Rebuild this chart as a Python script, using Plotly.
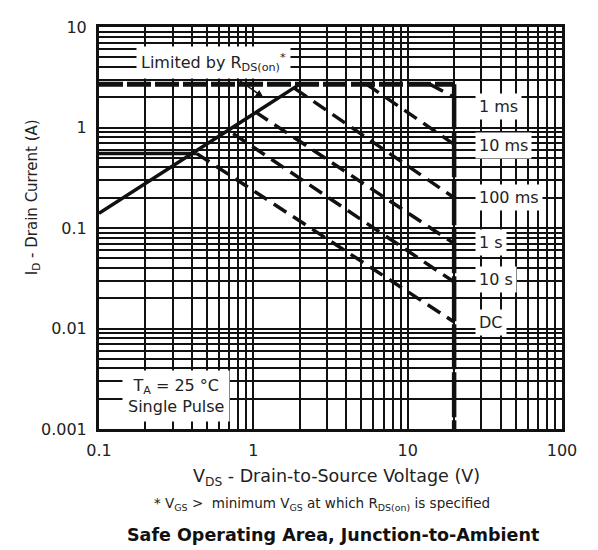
import numpy as np
import plotly.graph_objects as go

# ---- data ----
x_tick_vals = [0.1, 1, 10, 100]
x_tick_text = ["0.1", "1", "10", "100"]
y_tick_vals = [0.001, 0.01, 0.1, 1, 10]
y_tick_text = ["0.001", "0.01", "0.1", "1", "10"]

limit_h_v = [0.1, 20]
limit_h_i = [2.7, 2.7]
limit_v_v = [20, 20]
limit_v_i = [2.7, 0.001]

rds_v = [0.1, 2.0]
rds_i = [0.14, 2.7]

dc_flat_v = [0.1, 0.43]
dc_flat_i = [0.55, 0.55]

pulse_names = ["1 ms", "10 ms", "100 ms", "1 s", "10 s", "DC"]
pulse_start_v = [13.9, 5.4, 1.85, 1.03, 0.74, 0.43]
pulse_start_i = [2.7, 2.7, 2.45, 1.43, 0.87, 0.55]
pulse_end_v = [20, 20, 20, 20, 20, 20]
pulse_end_i = [2.0, 0.68, 0.2, 0.07, 0.029, 0.0116]
pulse_label_v = 27.5
pulse_label_i = [1.6, 0.66, 0.2, 0.071, 0.031, 0.0116]

FONT = "DejaVu Sans"
INK = "#111111"

# page offset of the plot (browser body margin is 8px)
OFF = 8
L, T = 99 - OFF, 18 - OFF
W, H = 463, 411
R = 598 - L - W
B = 550 - T - H

fig = go.Figure()

fig.add_trace(go.Scatter(x=limit_h_v, y=limit_h_i, mode="lines",
                         line=dict(color=INK, width=5, dash="24px,4px"), hoverinfo="skip"))
fig.add_trace(go.Scatter(x=limit_v_v, y=limit_v_i, mode="lines",
                         line=dict(color=INK, width=4.5, dash="45px,3px"), hoverinfo="skip"))
fig.add_trace(go.Scatter(x=rds_v, y=rds_i, mode="lines",
                         line=dict(color=INK, width=3.5), hoverinfo="skip"))
fig.add_trace(go.Scatter(x=dc_flat_v, y=dc_flat_i, mode="lines",
                         line=dict(color=INK, width=3.5), hoverinfo="skip"))
for n, sv, si, ev, ei in zip(pulse_names, pulse_start_v, pulse_start_i, pulse_end_v, pulse_end_i):
    fig.add_trace(go.Scatter(x=[sv, ev], y=[si, ei], mode="lines", name=n,
                             line=dict(color=INK, width=3.5, dash="15px,8px"), hoverinfo="skip"))

# in-plot labels (white boxes hide the grid)
for n, li in zip(pulse_names, pulse_label_i):
    fig.add_annotation(x=np.log10(pulse_label_v), y=np.log10(li), xref="x", yref="y",
                       text=n, showarrow=False, xanchor="left", yanchor="middle",
                       bgcolor="white", borderpad=3,
                       font=dict(family=FONT, size=16, color="#222"))

fig.add_annotation(x=np.log10(1.16), y=np.log10(2.0), xref="x", yref="y",
                   ax=np.log10(0.556), ay=np.log10(4.39), axref="x", ayref="y",
                   text="Limited by R<sub>DS(on)</sub><sup>*</sup>",
                   showarrow=True, arrowhead=2, arrowsize=1, arrowwidth=1.5, arrowcolor=INK,
                   bgcolor="white", borderpad=4,
                   font=dict(family=FONT, size=16, color="#222"))

fig.add_annotation(x=np.log10(0.316), y=np.log10(0.00215), xref="x", yref="y",
                   text="T<sub>A</sub> = 25 °C<br>Single Pulse", showarrow=False,
                   bgcolor="white", borderpad=5,
                   font=dict(family=FONT, size=16, color="#222"))


def py(page_y):
    # page pixel row -> paper coordinate
    return (T + H - (page_y - OFF)) / H


def px(page_x):
    return (page_x - OFF - L) / W


fig.add_annotation(x=px(32), y=py(192), xref="paper", yref="paper", textangle=-90,
                   xanchor="center", yanchor="middle",
                   text="I<sub>D</sub> - Drain Current (A)", showarrow=False,
                   font=dict(family=FONT, size=15, color="#222"))
fig.add_annotation(x=px(336), y=py(479), xref="paper", yref="paper", showarrow=False,
                   xanchor="center", yanchor="middle",
                   text="V<sub>DS</sub> - Drain-to-Source Voltage (V)",
                   font=dict(family=FONT, size=17.5, color="#222"))
fig.add_annotation(x=px(322), y=py(506), xref="paper", yref="paper", showarrow=False,
                   xanchor="center", yanchor="middle",
                   text="* V<sub>GS</sub> >  minimum V<sub>GS</sub> at which R<sub>DS(on)</sub> is specified",
                   font=dict(family=FONT, size=13.5, color="#222"))
fig.add_annotation(x=px(333), y=py(537), xref="paper", yref="paper", showarrow=False,
                   xanchor="center", yanchor="middle",
                   text="<b>Safe Operating Area, Junction-to-Ambient</b>",
                   font=dict(family=FONT, size=17.5, color="#111"))

minor_x = [m * 10 ** d for d in (-1, 0, 1) for m in range(2, 10)]
minor_y = [m * 10 ** d for d in (-3, -2, -1, 0) for m in range(2, 10)]

fig.update_layout(
    width=598, height=550,
    margin=dict(l=L, r=R, t=T, b=B),
    paper_bgcolor="white", plot_bgcolor="white",
    showlegend=False,
    font=dict(family=FONT, size=16, color="#222"),
    xaxis=dict(type="log", range=[-1, 2], tickvals=x_tick_vals, ticktext=x_tick_text,
               showgrid=True, gridcolor=INK, gridwidth=2, ticks="", ticklabelstandoff=5,
               showline=True, linecolor=INK, linewidth=3, mirror=True, zeroline=False,
               minor=dict(tickvals=minor_x, showgrid=True, gridcolor=INK, gridwidth=2, ticks="")),
    yaxis=dict(type="log", range=[-3, 1], tickvals=y_tick_vals, ticktext=y_tick_text,
               showgrid=True, gridcolor=INK, gridwidth=2, ticks="", ticklabelstandoff=6,
               showline=True, linecolor=INK, linewidth=3, mirror=True, zeroline=False,
               minor=dict(tickvals=minor_y, showgrid=True, gridcolor=INK, gridwidth=2, ticks="")),
)

fig.write_html("out.html")
